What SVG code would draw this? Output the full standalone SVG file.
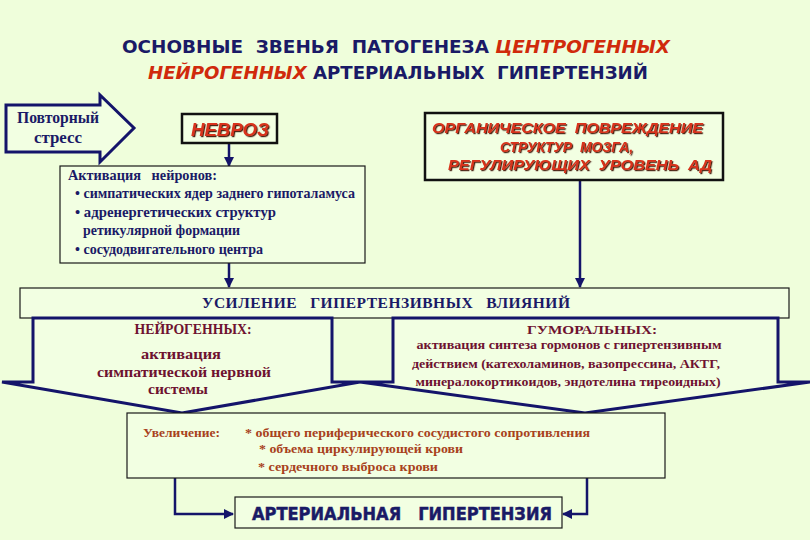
<svg xmlns="http://www.w3.org/2000/svg" width="810" height="540" viewBox="0 0 810 540">
<defs>
<style>
.bg{fill:#effedb}
.nv{fill:#1a1a66}
.ttl{font-family:"DejaVu Sans","Liberation Sans",sans-serif;font-weight:bold;font-size:18px}
.red{fill:#d02a0c;font-style:italic}
.ser{font-family:"Liberation Serif","DejaVu Serif",serif;font-weight:bold}
.shd{font-family:"Liberation Sans","DejaVu Sans",sans-serif;font-weight:bold;font-style:italic;fill:#d8321a;filter:url(#sh)}
.mar{fill:#6e1230}
.brn{fill:#a8421c}
.box{fill:#f2ffe2;stroke:#1a1a1a;stroke-width:1.2}
.tbox{fill:#f2ffe2;stroke:#111;stroke-width:2.5}
.blk{fill:#f2ffe2;stroke:#14146a;stroke-width:3;stroke-linejoin:miter}
.con{fill:none;stroke:#14146a;stroke-width:2.5}
</style>
<filter id="sh" x="-10%" y="-30%" width="120%" height="160%">
<feDropShadow dx="1.2" dy="1.2" stdDeviation="0.4" flood-color="#3a0a00" flood-opacity="0.9"/>
</filter>
<marker id="ah" viewBox="0 0 10 10" refX="9" refY="5" markerWidth="4" markerHeight="4" orient="auto" markerUnits="strokeWidth">
<path d="M0,0 L10,5 L0,10 z" fill="#14146a"/>
</marker>
</defs>
<rect class="bg" x="0" y="0" width="810" height="540"/>

<g id="title">
<text class="ttl" x="122" y="53" font-size="18.5" textLength="548" lengthAdjust="spacingAndGlyphs" xml:space="preserve"><tspan class="nv">ОСНОВНЫЕ  ЗВЕНЬЯ  ПАТОГЕНЕЗА </tspan><tspan class="red">ЦЕНТРОГЕННЫХ</tspan></text>
<text class="ttl" x="148" y="79" font-size="18.5" textLength="500" lengthAdjust="spacingAndGlyphs" xml:space="preserve"><tspan class="red">НЕЙРОГЕННЫХ</tspan><tspan class="nv"> АРТЕРИАЛЬНЫХ  ГИПЕРТЕНЗИЙ</tspan></text>
</g>

<g id="connectors">
<line class="con" x1="229" y1="143" x2="229" y2="166" marker-end="url(#ah)"/>
<line class="con" x1="229" y1="263" x2="229" y2="287" marker-end="url(#ah)"/>
<line class="con" x1="580" y1="180" x2="580" y2="287" marker-end="url(#ah)"/>
<path class="con" d="M175,478 V514 H233" marker-end="url(#ah)"/>
<path class="con" d="M587,478 V514 H563" marker-end="url(#ah)"/>
</g>

<g id="stress">
<polygon class="blk" points="6,105 100,105 100,95 134,128 100,162 100,152 6,152"/>
<text class="ser nv" x="58" y="123" font-size="16" text-anchor="middle" textLength="82" lengthAdjust="spacingAndGlyphs">Повторный</text>
<text class="ser nv" x="58" y="143" font-size="16" text-anchor="middle" textLength="48" lengthAdjust="spacingAndGlyphs">стресс</text>
</g>

<g id="nevroz">
<rect class="tbox" x="182" y="114" width="95" height="29"/>
<text class="shd" x="230" y="135.5" font-size="18" text-anchor="middle" textLength="78" lengthAdjust="spacingAndGlyphs">НЕВРОЗ</text>
</g>

<g id="organic">
<rect class="tbox" x="425" y="113" width="298" height="67"/>
<text class="shd" x="432" y="133" font-size="15" textLength="271" lengthAdjust="spacingAndGlyphs" xml:space="preserve">ОРГАНИЧЕСКОЕ  ПОВРЕЖДЕНИЕ</text>
<text class="shd" x="500" y="152" font-size="15" textLength="133" lengthAdjust="spacingAndGlyphs" xml:space="preserve">СТРУКТУР  МОЗГА,</text>
<text class="shd" x="448" y="170" font-size="15" textLength="264" lengthAdjust="spacingAndGlyphs" xml:space="preserve">РЕГУЛИРУЮЩИХ  УРОВЕНЬ  АД</text>
</g>

<g id="activation">
<rect class="box" x="60" y="166" width="305" height="97"/>
<text class="ser nv" x="68" y="180" font-size="14" textLength="149" lengthAdjust="spacingAndGlyphs" xml:space="preserve">Активация   нейронов:</text>
<text class="ser nv" x="75" y="198" font-size="14" textLength="280" lengthAdjust="spacingAndGlyphs">• симпатических ядер заднего гипоталамуса</text>
<text class="ser nv" x="75" y="217" font-size="14" textLength="201" lengthAdjust="spacingAndGlyphs">• адренергетических структур</text>
<text class="ser nv" x="83" y="235" font-size="14" textLength="157" lengthAdjust="spacingAndGlyphs">ретикулярной формации</text>
<text class="ser nv" x="75" y="254" font-size="14" textLength="188" lengthAdjust="spacingAndGlyphs">• сосудодвигательного центра</text>
</g>

<g id="usilenie">
<rect class="box" x="20" y="288" width="769" height="30"/>
<text class="ser nv" x="386" y="308" font-size="15.5" text-anchor="middle" textLength="368" xml:space="preserve">УСИЛЕНИЕ   ГИПЕРТЕНЗИВНЫХ   ВЛИЯНИЙ</text>
</g>

<g id="humoral">
<polygon class="blk" points="393,318 778,318 778,382 810,382 585,413 360,382 393,382"/>
<text class="ser mar" x="592" y="334" font-size="13.5" text-anchor="middle" textLength="130" lengthAdjust="spacingAndGlyphs">ГУМОРАЛЬНЫХ:</text>
<text class="ser mar" x="569" y="349" font-size="13.5" text-anchor="middle" textLength="305" lengthAdjust="spacingAndGlyphs">активация синтеза гормонов с гипертензивным</text>
<text class="ser mar" x="566" y="368" font-size="13.5" text-anchor="middle" textLength="308" lengthAdjust="spacingAndGlyphs">действием (катехоламинов, вазопрессина, АКТГ,</text>
<text class="ser mar" x="568" y="386" font-size="13.5" text-anchor="middle" textLength="305" lengthAdjust="spacingAndGlyphs">минералокортикоидов, эндотелина тиреоидных)</text>
</g>

<g id="neurogenic">
<polygon class="blk" points="33,318 332,318 332,382 360,382 182,413 2,382 33,382"/>
<text class="ser mar" x="193" y="334" font-size="14" text-anchor="middle" textLength="117" lengthAdjust="spacingAndGlyphs">НЕЙРОГЕННЫХ:</text>
<text class="ser mar" x="181" y="359" font-size="15" text-anchor="middle" textLength="80" lengthAdjust="spacingAndGlyphs">активация</text>
<text class="ser mar" x="184" y="377" font-size="15" text-anchor="middle" textLength="174" lengthAdjust="spacingAndGlyphs">симпатической нервной</text>
<text class="ser mar" x="178" y="394" font-size="15" text-anchor="middle" textLength="60" lengthAdjust="spacingAndGlyphs">системы</text>
</g>

<g id="increase">
<rect class="box" x="127" y="413" width="538" height="65"/>
<text class="ser brn" x="143" y="437" font-size="13" textLength="77" lengthAdjust="spacingAndGlyphs">Увеличение:</text>
<text class="ser brn" x="245" y="437" font-size="13" textLength="345" lengthAdjust="spacingAndGlyphs">* общего периферического сосудистого сопротивления</text>
<text class="ser brn" x="259" y="453" font-size="13" textLength="204" lengthAdjust="spacingAndGlyphs">* объема циркулирующей крови</text>
<text class="ser brn" x="258" y="471" font-size="13" textLength="180" lengthAdjust="spacingAndGlyphs">* сердечного выброса крови</text>
</g>

<g id="ah-box">
<rect class="box" x="235" y="497" width="327" height="31"/>
<text class="ttl nv" x="402" y="520" font-size="16" text-anchor="middle" textLength="300" lengthAdjust="spacingAndGlyphs" stroke="#1a1a66" stroke-width="0.5" xml:space="preserve">АРТЕРИАЛЬНАЯ   ГИПЕРТЕНЗИЯ</text>
</g>
</svg>
